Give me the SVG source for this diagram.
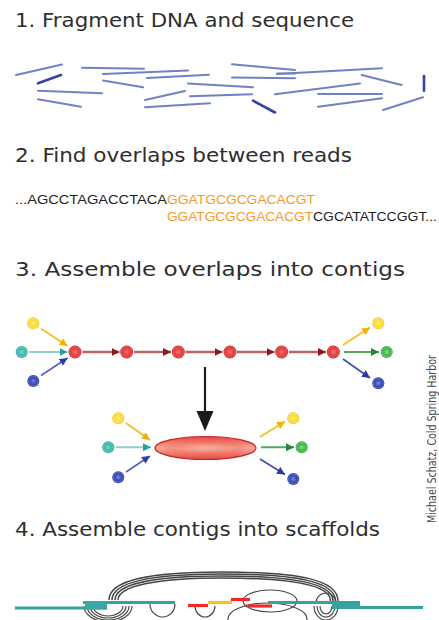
<svg xmlns="http://www.w3.org/2000/svg" width="439" height="620" viewBox="0 0 439 620">
  <defs>
    <style>
      .title { font-family: "DejaVu Sans", Verdana, sans-serif; font-size: 20px; fill: #2e2e2e; }
      .seq { font-family: "Liberation Sans", Arial, sans-serif; font-size: 12.5px; }
      .credit { font-family: "Liberation Sans Narrow", "DejaVu Sans Condensed", "Liberation Sans", sans-serif; font-size: 12.5px; fill: #4a4a4a; }
      .read { stroke: #7181c4; stroke-width: 2; stroke-linecap: round; fill: none; }
      .read-dark { stroke: #3445a0; stroke-width: 2.6; stroke-linecap: round; fill: none; }
      .chain { stroke: #b86464; stroke-width: 2.5; fill: none; }
      .loop { stroke: #4a4a4a; stroke-width: 1.2; fill: none; }
      .arc { stroke: #444444; stroke-width: 1.5; fill: none; }
      .contig { stroke: #33a3a0; stroke-width: 3.2; fill: none; }
    </style>
    <radialGradient id="g-red" cx="0.5" cy="0.5" r="0.5">
      <stop offset="0" stop-color="#f37c7c"/>
      <stop offset="0.6" stop-color="#e33a3a"/>
      <stop offset="0.82" stop-color="#ea5454"/>
      <stop offset="1" stop-color="#b41f1f"/>
    </radialGradient>
    <radialGradient id="g-yellow" cx="0.5" cy="0.5" r="0.5">
      <stop offset="0" stop-color="#fff18a"/>
      <stop offset="0.6" stop-color="#fbd92a"/>
      <stop offset="0.82" stop-color="#fde36a"/>
      <stop offset="1" stop-color="#ecba00"/>
    </radialGradient>
    <radialGradient id="g-teal" cx="0.5" cy="0.5" r="0.5">
      <stop offset="0" stop-color="#7cd6ce"/>
      <stop offset="0.6" stop-color="#3cb6ac"/>
      <stop offset="0.82" stop-color="#62c6be"/>
      <stop offset="1" stop-color="#279890"/>
    </radialGradient>
    <radialGradient id="g-blue" cx="0.5" cy="0.5" r="0.5">
      <stop offset="0" stop-color="#7888da"/>
      <stop offset="0.6" stop-color="#3646ae"/>
      <stop offset="0.82" stop-color="#5a68c4"/>
      <stop offset="1" stop-color="#233196"/>
    </radialGradient>
    <radialGradient id="g-green" cx="0.5" cy="0.5" r="0.5">
      <stop offset="0" stop-color="#8cdc8c"/>
      <stop offset="0.6" stop-color="#3db448"/>
      <stop offset="0.82" stop-color="#66c66e"/>
      <stop offset="1" stop-color="#279832"/>
    </radialGradient>
    <linearGradient id="g-contig" x1="0" y1="0" x2="0" y2="1">
      <stop offset="0" stop-color="#e8443c"/>
      <stop offset="0.5" stop-color="#f6aa98"/>
      <stop offset="1" stop-color="#e8443c"/>
    </linearGradient>
    <radialGradient id="g-contig-r" cx="0.5" cy="0.5" r="0.5">
      <stop offset="0" stop-color="#f8b4a4" stop-opacity="0.9"/>
      <stop offset="0.7" stop-color="#f08070" stop-opacity="0.5"/>
      <stop offset="1" stop-color="#e23c34" stop-opacity="0"/>
    </radialGradient>
    <marker id="ah-red" viewBox="0 0 10 10" refX="10" refY="5" markerWidth="8" markerHeight="8" markerUnits="userSpaceOnUse" orient="auto"><path d="M0,0 L10,5 L0,10 z" fill="#8c1a1a"/></marker>
    <marker id="ah-yellow" viewBox="0 0 10 10" refX="10" refY="5" markerWidth="8" markerHeight="8" markerUnits="userSpaceOnUse" orient="auto"><path d="M0,0 L10,5 L0,10 z" fill="#f0b400"/></marker>
    <marker id="ah-teal" viewBox="0 0 10 10" refX="10" refY="5" markerWidth="8" markerHeight="8" markerUnits="userSpaceOnUse" orient="auto"><path d="M0,0 L10,5 L0,10 z" fill="#2e9e9a"/></marker>
    <marker id="ah-blue" viewBox="0 0 10 10" refX="10" refY="5" markerWidth="8" markerHeight="8" markerUnits="userSpaceOnUse" orient="auto"><path d="M0,0 L10,5 L0,10 z" fill="#2c3ca0"/></marker>
    <marker id="ah-green" viewBox="0 0 10 10" refX="10" refY="5" markerWidth="8" markerHeight="8" markerUnits="userSpaceOnUse" orient="auto"><path d="M0,0 L10,5 L0,10 z" fill="#23883a"/></marker>
  </defs>

  <rect width="439" height="620" fill="#ffffff"/>

  <!-- Step headings -->
  <g id="headings">
    <text class="title" x="15" y="27" textLength="339" lengthAdjust="spacingAndGlyphs">1. Fragment DNA and sequence</text>
    <text class="title" x="15" y="162" textLength="337" lengthAdjust="spacingAndGlyphs">2. Find overlaps between reads</text>
    <text class="title" x="15" y="276" textLength="390" lengthAdjust="spacingAndGlyphs">3. Assemble overlaps into contigs</text>
    <text class="title" x="15" y="536" textLength="365" lengthAdjust="spacingAndGlyphs">4. Assemble contigs into scaffolds</text>
  </g>

  <!-- Step 1: scattered reads -->
  <g id="reads">
    <line class="read" x1="16" y1="75" x2="62" y2="64.5"/>
    <line class="read" x1="82" y1="67.7" x2="144" y2="68.7"/>
    <line class="read" x1="103" y1="74" x2="188" y2="70.5"/>
    <line class="read" x1="147" y1="78" x2="209" y2="74.8"/>
    <line class="read" x1="103" y1="80.5" x2="143" y2="87.3"/>
    <line class="read" x1="38" y1="90.7" x2="102" y2="93.3"/>
    <line class="read" x1="38" y1="99.3" x2="81" y2="106.7"/>
    <line class="read" x1="188" y1="83.5" x2="253" y2="87.2"/>
    <line class="read" x1="190" y1="96.2" x2="252" y2="94.2"/>
    <line class="read" x1="145" y1="100" x2="185" y2="91"/>
    <line class="read" x1="145" y1="107.3" x2="210" y2="103.3"/>
    <line class="read" x1="232" y1="64.3" x2="295" y2="70"/>
    <line class="read" x1="277" y1="74" x2="382" y2="68.3"/>
    <line class="read" x1="232" y1="77.5" x2="295" y2="78.3"/>
    <line class="read" x1="277" y1="73.5" x2="295" y2="73.5"/>
    <line class="read" x1="361.7" y1="75" x2="401.7" y2="85"/>
    <line class="read" x1="275" y1="94.3" x2="360" y2="83.5"/>
    <line class="read" x1="318" y1="94" x2="382" y2="94"/>
    <line class="read" x1="318" y1="106.7" x2="382" y2="98.3"/>
    <line class="read" x1="383" y1="110" x2="423" y2="97.3"/>
    <line class="read-dark" x1="38" y1="83.3" x2="61" y2="75"/>
    <line class="read-dark" x1="253" y1="100.7" x2="275" y2="112.5"/>
    <line class="read-dark" x1="424" y1="76" x2="424" y2="90.7"/>
  </g>

  <!-- Step 2: overlapping read sequences -->
  <g id="overlap">
    <text class="seq" y="204"><tspan x="15" fill="#222222" textLength="152" lengthAdjust="spacingAndGlyphs">...AGCCTAGACCTACA</tspan><tspan x="167" fill="#f39a2a" textLength="148" lengthAdjust="spacingAndGlyphs">GGATGCGCGACACGT</tspan></text>
    <text class="seq" y="221"><tspan x="167" fill="#f39a2a" textLength="146" lengthAdjust="spacingAndGlyphs">GGATGCGCGACACGT</tspan><tspan x="313" fill="#222222" textLength="124" lengthAdjust="spacingAndGlyphs">CGCATATCCGGT...</tspan></text>
  </g>

  <!-- Step 3: connectors -->
  <g id="connectors">
    <line class="chain" x1="82.5" y1="352" x2="119.5" y2="352" marker-end="url(#ah-red)"/>
    <line class="chain" x1="134" y1="352" x2="171" y2="352" marker-end="url(#ah-red)"/>
    <line class="chain" x1="185.5" y1="352" x2="222.5" y2="352" marker-end="url(#ah-red)"/>
    <line class="chain" x1="237" y1="352" x2="274.5" y2="352" marker-end="url(#ah-red)"/>
    <line class="chain" x1="289" y1="352" x2="326" y2="352" marker-end="url(#ah-red)"/>

    <line x1="41" y1="328.5" x2="67.5" y2="346" stroke="#f4c020" stroke-width="1.8" marker-end="url(#ah-yellow)"/>
    <line x1="29" y1="352" x2="67.5" y2="352" stroke="#8fd0ca" stroke-width="2" marker-end="url(#ah-teal)"/>
    <line x1="41" y1="375.5" x2="67.5" y2="358" stroke="#5666bd" stroke-width="1.8" marker-end="url(#ah-blue)"/>

    <line x1="343" y1="345" x2="370" y2="327.5" stroke="#f4c020" stroke-width="1.8" marker-end="url(#ah-yellow)"/>
    <line x1="344" y1="352" x2="379" y2="352" stroke="#55a860" stroke-width="2" marker-end="url(#ah-green)"/>
    <line x1="343" y1="359" x2="370" y2="378" stroke="#4050b0" stroke-width="1.8" marker-end="url(#ah-blue)"/>

    <line x1="205" y1="367" x2="205" y2="414" stroke="#1a1a1a" stroke-width="2.2"/>
    <path d="M196.5,411 L213.5,411 L205,431 z" fill="#1a1a1a"/>

    <line x1="126" y1="423" x2="150" y2="440" stroke="#f4c020" stroke-width="1.8" marker-end="url(#ah-yellow)"/>
    <line x1="116" y1="447.3" x2="151" y2="447.3" stroke="#8fd0ca" stroke-width="2" marker-end="url(#ah-teal)"/>
    <line x1="126" y1="472" x2="150" y2="456" stroke="#5666bd" stroke-width="1.8" marker-end="url(#ah-blue)"/>

    <line x1="260" y1="437" x2="285" y2="421.5" stroke="#f4c020" stroke-width="1.8" marker-end="url(#ah-yellow)"/>
    <line x1="261" y1="447.3" x2="294" y2="447.3" stroke="#55a860" stroke-width="2" marker-end="url(#ah-green)"/>
    <line x1="260" y1="459" x2="285" y2="474.5" stroke="#4050b0" stroke-width="1.8" marker-end="url(#ah-blue)"/>
  </g>

  <!-- Step 3: overlap graph nodes -->
  <g id="n-in-yellow"><circle cx="33.3" cy="323.3" r="6" fill="url(#g-yellow)"/></g>
  <g id="n-in-teal"><circle cx="21.7" cy="352" r="6" fill="url(#g-teal)"/></g>
  <g id="n-in-blue"><circle cx="33.3" cy="381" r="6" fill="url(#g-blue)"/></g>
  <g id="n-r1"><circle cx="75" cy="352" r="6.5" fill="url(#g-red)"/></g>
  <g id="n-r2"><circle cx="126.7" cy="352" r="6.5" fill="url(#g-red)"/></g>
  <g id="n-r3"><circle cx="178.3" cy="352" r="6.5" fill="url(#g-red)"/></g>
  <g id="n-r4"><circle cx="230" cy="352" r="6.5" fill="url(#g-red)"/></g>
  <g id="n-r5"><circle cx="281.7" cy="352" r="6.5" fill="url(#g-red)"/></g>
  <g id="n-r6"><circle cx="333.3" cy="352" r="6.5" fill="url(#g-red)"/></g>
  <g id="n-out-yellow"><circle cx="378.3" cy="323.3" r="6" fill="url(#g-yellow)"/></g>
  <g id="n-out-green"><circle cx="386.7" cy="352" r="6" fill="url(#g-green)"/></g>
  <g id="n-out-blue"><circle cx="378.3" cy="383.3" r="6" fill="url(#g-blue)"/></g>

  <!-- Collapsed contig -->
  <g id="contig">
    <ellipse cx="205.5" cy="448" rx="50.5" ry="11.5" fill="url(#g-contig)" stroke="#c0282a" stroke-width="1.2"/>
    <ellipse cx="205.5" cy="448" rx="44" ry="7" fill="url(#g-contig-r)"/>
  </g>
  <g id="c-in-yellow"><circle cx="118.3" cy="418.3" r="6" fill="url(#g-yellow)"/></g>
  <g id="c-in-teal"><circle cx="108.3" cy="447.3" r="6" fill="url(#g-teal)"/></g>
  <g id="c-in-blue"><circle cx="118.3" cy="477.3" r="6" fill="url(#g-blue)"/></g>
  <g id="c-out-yellow"><circle cx="293.3" cy="418.3" r="6" fill="url(#g-yellow)"/></g>
  <g id="c-out-green"><circle cx="301.7" cy="447.3" r="6" fill="url(#g-green)"/></g>
  <g id="c-out-blue"><circle cx="293.3" cy="479" r="6" fill="url(#g-blue)"/></g>

  <!-- Credit line -->
  <text class="credit" transform="translate(436,523) rotate(-90)" textLength="168" lengthAdjust="spacingAndGlyphs">Michael Schatz, Cold Spring Harbor</text>

  <!-- Step 4: scaffold with mate-pair links -->
  <g id="scaffold">
    <path class="arc" d="M109,600 C109,580 150,572 222,572 C300,572 338,580 338,601"/>
    <path class="arc" d="M112,600 C112,582 152,574 222,574 C298,574 335.5,582 335.5,601"/>
    <path class="arc" d="M115,600 C115,584 154,576 222,576 C296,576 333,584 333,601"/>
    <path class="arc" d="M118,600 C118,586 156,578 222,578 C294,578 330.5,586 330.5,601"/>

    <path class="loop" d="M84,606 A24,16 0 0 0 132,606"/>
    <path class="loop" d="M87,606 A21,14 0 0 0 129,606"/>
    <path class="loop" d="M90,606 A18,12 0 0 0 126,606"/>
    <path class="loop" d="M93,606 A15,10 0 0 0 123,606"/>
    <path class="loop" d="M150,604 A12.5,13 0 0 0 175,604"/>
    <path class="loop" d="M195,606 A10,11 0 0 0 215,606"/>

    <ellipse class="loop" cx="270" cy="601" rx="27" ry="11"/>
    <ellipse class="loop" cx="267.5" cy="619" rx="39.5" ry="16"/>

    <path class="loop" d="M314,606 A12,14 0 0 0 338,606"/>
    <path class="loop" d="M317,606 A9,11 0 0 0 335,606"/>
    <path class="loop" d="M320,606 A6,8 0 0 0 332,606"/>
    <path class="loop" d="M316,603 A10,10 0 0 1 336,603"/>

    <line class="contig" x1="15" y1="608" x2="107" y2="608"/>
    <line class="contig" x1="83" y1="602.5" x2="175" y2="602.5"/>
    <rect x="85" y="601" width="22" height="8.5" fill="#3aa8a4"/>
    <line class="contig" x1="268" y1="602.5" x2="360" y2="602.5"/>
    <line class="contig" x1="332" y1="607.5" x2="423" y2="607.5"/>
    <rect x="332" y="601" width="28" height="8" fill="#37a29e"/>

    <line x1="188" y1="605.5" x2="208" y2="605.5" stroke="#ee2a2a" stroke-width="3.2"/>
    <line x1="208" y1="602.5" x2="232" y2="602.5" stroke="#f6c21c" stroke-width="3.2"/>
    <line x1="231" y1="599.5" x2="250" y2="599.5" stroke="#ee2a2a" stroke-width="3.2"/>
    <line x1="248" y1="606" x2="272" y2="606" stroke="#ee2a2a" stroke-width="3.2"/>
  </g>
</svg>
